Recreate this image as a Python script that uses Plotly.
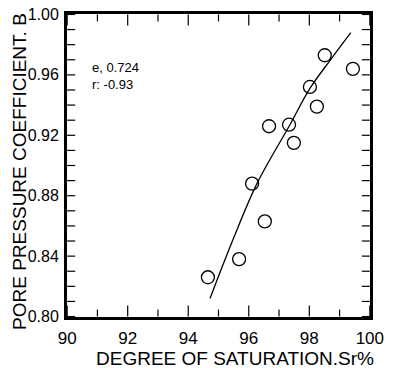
import plotly.graph_objects as go

# Data
saturation = [94.65, 95.68, 96.11, 96.53, 96.67, 97.33, 97.49, 98.02, 98.25, 98.51, 99.44]
b_coeff = [0.826, 0.838, 0.888, 0.863, 0.926, 0.927, 0.915, 0.952, 0.939, 0.973, 0.964]

curve_x = [94.72, 95.5, 96.27, 97.36, 98.02, 98.7, 99.37]
curve_y = [0.812, 0.852, 0.888, 0.927, 0.951, 0.970, 0.988]

x_tick_vals = [90, 91, 92, 93, 94, 95, 96, 97, 98, 99, 100]
x_tick_text = ["90", "", "92", "", "94", "", "96", "", "98", "", "100"]
y_tick_vals = [round(0.80 + 0.01 * i, 2) for i in range(21)]
y_tick_text = ["%.2f" % v if i % 4 == 0 else "" for i, v in enumerate(y_tick_vals)]

X_MIN, X_MAX = 90, 100
Y_MIN, Y_MAX = 0.80, 1.00

font_family = "Liberation Sans"

fig = go.Figure()

fig.add_trace(go.Scatter(
    x=curve_x, y=curve_y, mode="lines",
    line=dict(color="black", width=1.3, shape="spline"),
    showlegend=False, hoverinfo="skip"))
fig.add_trace(go.Scatter(
    x=saturation, y=b_coeff, mode="markers",
    marker=dict(symbol="circle-open", size=13, color="black", line=dict(width=1.3)),
    showlegend=False))

# inside tick marks on all four sides (thin filled rects, pixel-sized)
tick_style = dict(type="rect", fillcolor="black", line=dict(width=0), layer="above")
for v in x_tick_vals:
    L = 11 if v % 2 == 0 else 7
    fig.add_shape(xref="x", yref="y", xsizemode="pixel", xanchor=v, x0=-0.6, x1=0.6,
                  ysizemode="pixel", yanchor=Y_MIN, y0=0, y1=L, **tick_style)
    fig.add_shape(xref="x", yref="y", xsizemode="pixel", xanchor=v, x0=-0.6, x1=0.6,
                  ysizemode="pixel", yanchor=Y_MAX, y0=-L, y1=0, **tick_style)
for v in y_tick_vals:
    fig.add_shape(xref="x", yref="y", xsizemode="pixel", xanchor=X_MIN, x0=0, x1=8,
                  ysizemode="pixel", yanchor=v, y0=-0.6, y1=0.6, **tick_style)
    fig.add_shape(xref="x", yref="y", xsizemode="pixel", xanchor=X_MAX, x0=-8, x1=0,
                  ysizemode="pixel", yanchor=v, y0=-0.6, y1=0.6, **tick_style)

fig.update_xaxes(
    range=[X_MIN - 0.005, X_MAX + 0.005], tickmode="array", tickvals=x_tick_vals, ticktext=x_tick_text,
    ticks="", ticklabelstandoff=4, ticklabeloverflow="allow",
    showline=True, linewidth=3, linecolor="black", mirror=True,
    showgrid=False, zeroline=False, automargin=False,
    tickfont=dict(family=font_family, size=17, color="black"))
fig.update_yaxes(
    range=[Y_MIN - 0.0003, Y_MAX + 0.0003], tickmode="array", tickvals=y_tick_vals, ticktext=y_tick_text,
    ticks="", ticklabelstandoff=2, ticklabeloverflow="allow",
    showline=True, linewidth=3, linecolor="black", mirror=True,
    showgrid=False, zeroline=False, automargin=False,
    tickfont=dict(family=font_family, size=16, color="black"))

fig.add_annotation(
    text="PORE PRESSURE COEFFICIENT. B", textangle=-90,
    xref="paper", yref="paper", x=-0.155, y=0.479, xanchor="center", yanchor="middle",
    showarrow=False, font=dict(family=font_family, size=19, color="black"))
fig.add_annotation(
    text="DEGREE OF SATURATION.Sr%",
    xref="paper", yref="paper", x=0.554, y=-0.137, xanchor="center", yanchor="middle",
    showarrow=False, font=dict(family=font_family, size=19, color="black"))
fig.add_annotation(
    text="e, 0.724", xref="paper", yref="paper", x=0.076, y=0.822,
    xanchor="left", yanchor="middle", showarrow=False,
    font=dict(family=font_family, size=13, color="black"))
fig.add_annotation(
    text="r: -0.93", xref="paper", yref="paper", x=0.076, y=0.766,
    xanchor="left", yanchor="middle", showarrow=False,
    font=dict(family=font_family, size=13, color="black"))

fig.update_layout(
    width=399, height=368,
    margin=dict(l=67, r=29, t=14, b=51, autoexpand=False),
    paper_bgcolor="white", plot_bgcolor="white")

fig.write_html("out.html", config={"displayModeBar": False},
               post_script="document.body.style.margin='0';document.body.style.padding='0';")
